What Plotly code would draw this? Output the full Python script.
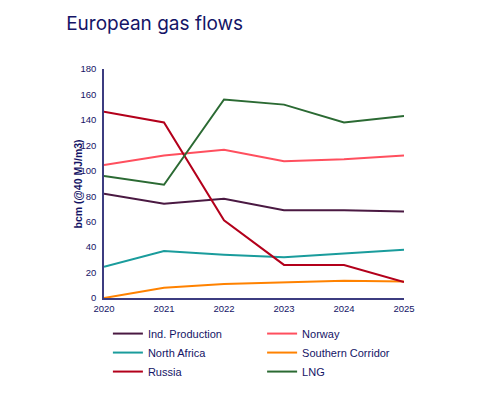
import plotly.graph_objects as go

years = [2020, 2021, 2022, 2023, 2024, 2025]
ind_production = [82, 74, 78, 69, 69, 68]
norway = [104.5, 112, 116.5, 107.5, 109, 112]
north_africa = [24.5, 37, 34, 32, 35, 38]
southern_corridor = [0, 8, 11, 12, 13.5, 13]
russia = [146.5, 138, 61, 26, 26, 12.5]
lng = [96, 89, 156, 152, 138, 143]

series = [
    ("Ind. Production", ind_production, "#4a1942", "legend"),
    ("Norway", norway, "#ff4f5e", "legend2"),
    ("North Africa", north_africa, "#1a9c9c", "legend"),
    ("Southern Corridor", southern_corridor, "#ff8200", "legend2"),
    ("Russia", russia, "#b3001b", "legend"),
    ("LNG", lng, "#2b6a33", "legend2"),
]

navy = "#141466"
fig = go.Figure()
for name, vals, color, lg in series:
    fig.add_trace(go.Scatter(x=years, y=vals, name=name, mode="lines",
                             line=dict(color=color, width=2), legend=lg))

legend_common = dict(orientation="v", yanchor="top", xanchor="left",
                     font=dict(family="Liberation Sans, Arial", size=11, color=navy),
                     bgcolor="rgba(0,0,0,0)", tracegroupgap=0, itemwidth=30)

fig.update_layout(
    width=493, height=395,
    margin=dict(l=96, r=97, t=61, b=105, autoexpand=False),
    paper_bgcolor="white", plot_bgcolor="white",
    title=dict(text="European gas flows", x=0.118, xanchor="left", y=0.962, yanchor="middle",
               font=dict(family="Inter, Open Sans", size=19, color=navy)),
    xaxis=dict(range=[2020, 2025], tickvals=years, showgrid=False, zeroline=False,
               showline=True, linecolor="#3c3c80", linewidth=1.5, ticks="",
               automargin=False, ticklabelstandoff=1,
               tickfont=dict(family="Liberation Sans, Arial", size=9.5, color=navy)),
    yaxis=dict(range=[0, 180], dtick=20, showgrid=False, zeroline=False,
               showline=True, linecolor="#3c3c80", linewidth=1.5, ticks="",
               automargin=False, ticklabelstandoff=4,
               tickfont=dict(family="Liberation Sans, Arial", size=9.5, color=navy)),
    annotations=[dict(text="<b>bcm (@40 MJ/m3)</b>", textangle=-90, showarrow=False,
                      xref="paper", yref="paper", x=-0.087, y=0.5,
                      xanchor="center", yanchor="middle",
                      font=dict(family="Liberation Sans, Arial", size=10.5, color=navy))],
    legend=dict(x=0.013, y=-0.092, **legend_common),
    legend2=dict(x=0.527, y=-0.092, **legend_common),
    showlegend=True,
)

fig.write_html("out.html")
